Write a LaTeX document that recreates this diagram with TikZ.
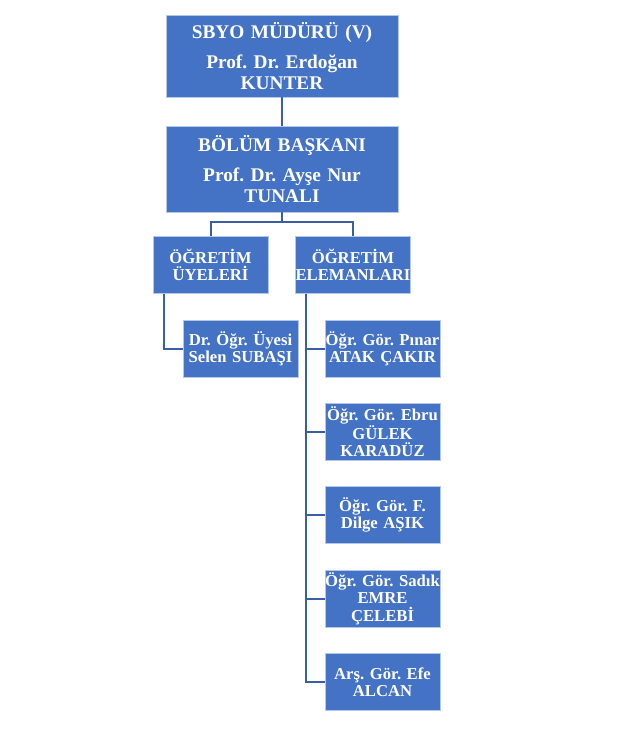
\documentclass[tikz,border=0pt]{standalone}
\usepackage{fontspec}
\setmainfont{Liberation Serif}
\definecolor{boxblue}{HTML}{4472C4}
\definecolor{boxedge}{HTML}{B4C7E7}
\definecolor{linkblue}{HTML}{3A5DA8}
\begin{document}
\begin{tikzpicture}[x=0.75pt, y=-0.75pt,
        unit/.style={draw=boxedge, fill=boxblue, text=white, line width=0.6pt,
          inner ysep=0pt, inner xsep=-5pt, align=center},
        head/.style={unit, minimum width=174pt, text width=184pt,
          font=\fontsize{14.5}{15.5}\selectfont\bfseries\frenchspacing},
        member/.style={unit, minimum width=86.25pt, text width=96pt,
          minimum height=42.75pt,
          font=\fontsize{12.5}{13}\selectfont\bfseries\frenchspacing},
        link/.style={draw=linkblue, line width=1.5pt},
      ]
        \useasboundingbox (0,0) rectangle (628,754);

        % Heads
        \node[head, minimum height=61.5pt] (mudur) at (282,56)
          {SBYO MÜDÜRÜ (V)\\[7pt]Prof. Dr. Erdoğan\\KUNTER};
        \node[head, minimum height=64.5pt] (baskan) at (282,169)
          {BÖLÜM BAŞKANI\\[7pt]Prof. Dr. Ayşe Nur\\TUNALI};

        % Groups
        \node[member] (uyeler)    at (210.5,265) {ÖĞRETİM\\ÜYELERİ};
        \node[member] (elemanlar) at (353,265)   {ÖĞRETİM\\ELEMANLARI};

        % Staff
        \node[member] (subasi) at (240.5,348.5) {Dr. Öğr. Üyesi\\Selen SUBAŞI};
        \node[member] (atak)   at (382.5,348.5) {Öğr. Gör. Pınar\\ATAK ÇAKIR};
        \node[member] (gulek)  at (382.5,431.5) {Öğr. Gör. Ebru\\GÜLEK\\KARADÜZ};
        \node[member] (asik)   at (382.5,515)   {Öğr. Gör. F.\\Dilge AŞIK};
        \node[member] (celebi) at (382.5,598.5) {Öğr. Gör. Sadık\\EMRE\\ÇELEBİ};
        \node[member] (alcan)  at (382.5,682)   {Arş. Gör. Efe\\ALCAN};

        % Links
        \coordinate (split) at (282,222);
        \draw[link] (mudur) -- (baskan);
        \draw[link] (baskan) -- (split);
        \draw[link] (uyeler.north) |- (split) -| (elemanlar.north);
        \draw[link] (uyeler.south west) ++(11,0) |- (subasi.west);
        \foreach \who in {atak, gulek, asik, celebi, alcan}
          \draw[link] (elemanlar.south west) ++(11,0) |- (\who.west);
      \end{tikzpicture}
\end{document}
